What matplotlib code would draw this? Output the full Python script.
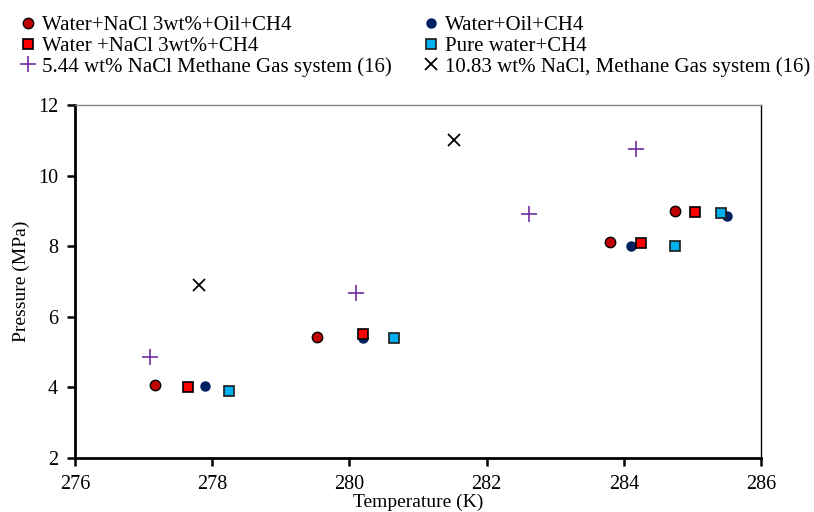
import numpy as np
import matplotlib.pyplot as plt

plt.rcParams['font.family'] = ['Liberation Serif', 'DejaVu Serif']

# Water+NaCl 3wt%+Oil+CH4
t_brine_oil = [277.17, 279.53, 283.80, 284.75]
p_brine_oil = [4.07, 5.42, 8.12, 9.01]
# Water+Oil+CH4
t_water_oil = [277.90, 280.20, 284.10, 285.50]
p_water_oil = [4.03, 5.40, 8.00, 8.86]
# Water +NaCl 3wt%+CH4
t_brine = [277.65, 280.20, 284.25, 285.04]
p_brine = [4.01, 5.50, 8.09, 8.97]
# Pure water+CH4
t_pure = [278.25, 280.65, 284.75, 285.41]
p_pure = [3.91, 5.41, 8.00, 8.95]
# literature (16)
t_lit544 = [277.10, 280.10, 282.62, 284.18]
p_lit544 = [4.85, 6.66, 8.91, 10.76]
t_lit1083 = [277.81, 281.52]
p_lit1083 = [6.89, 11.0]

fig = plt.figure(figsize=(8.14, 5.12), dpi=100)
ax = fig.add_axes([0.092, 0.1055, 0.843, 0.6895])

h1, = ax.plot(t_brine_oil, p_brine_oil, 'o', ms=7.5, mfc='#C00000', mec='black', mew=1,
              label='Water+NaCl 3wt%+Oil+CH4')
h4, = ax.plot(t_water_oil, p_water_oil, 'o', ms=6.5, mfc='#002060', mec='#002060',
              label='Water+Oil+CH4')
h2, = ax.plot(t_brine, p_brine, 's', ms=7.5, mfc='#FF0000', mec='black', mew=1.2,
              label='Water +NaCl 3wt%+CH4')
h5, = ax.plot(t_pure, p_pure, 's', ms=7.5, mfc='#00B0F0', mec='#1a1a1a', mew=1.2,
              label='Pure water+CH4')
h3, = ax.plot(t_lit544, p_lit544, '+', ms=11, mew=1.2, color='#7030A0',
              label='5.44 wt% NaCl Methane Gas system (16)')
h6, = ax.plot(t_lit1083, p_lit1083, 'x', ms=8, mew=1.3, color='black',
              label='10.83 wt% NaCl, Methane Gas system (16)')

ax.set_xlim(276, 286)
ax.set_ylim(2, 12)
ax.set_xticks(np.arange(276, 287, 2))
ax.set_yticks(np.arange(2, 13, 2))
ax.tick_params(direction='out', length=6, width=1.8, labelsize=14.5, pad=6)
ax.spines['left'].set_linewidth(2)
ax.spines['bottom'].set_linewidth(2)
ax.spines['right'].set_linewidth(1)
ax.spines['top'].set_linewidth(1)
ax.spines['top'].set_color('#888888')

ax.set_xlabel('Temperature (K)', fontsize=14, labelpad=0)
ax.set_ylabel('Pressure (MPa)', fontsize=14, labelpad=6)

fig.legend(handles=[h1, h2, h3, h4, h5, h6], ncol=2, loc='upper left',
           bbox_to_anchor=(0.009, 0.998), frameon=False, fontsize=15,
           handlelength=0.6, handletextpad=0.35, columnspacing=1.6,
           labelspacing=0.05, borderaxespad=0.3)

fig.savefig('out.png', dpi=100)
